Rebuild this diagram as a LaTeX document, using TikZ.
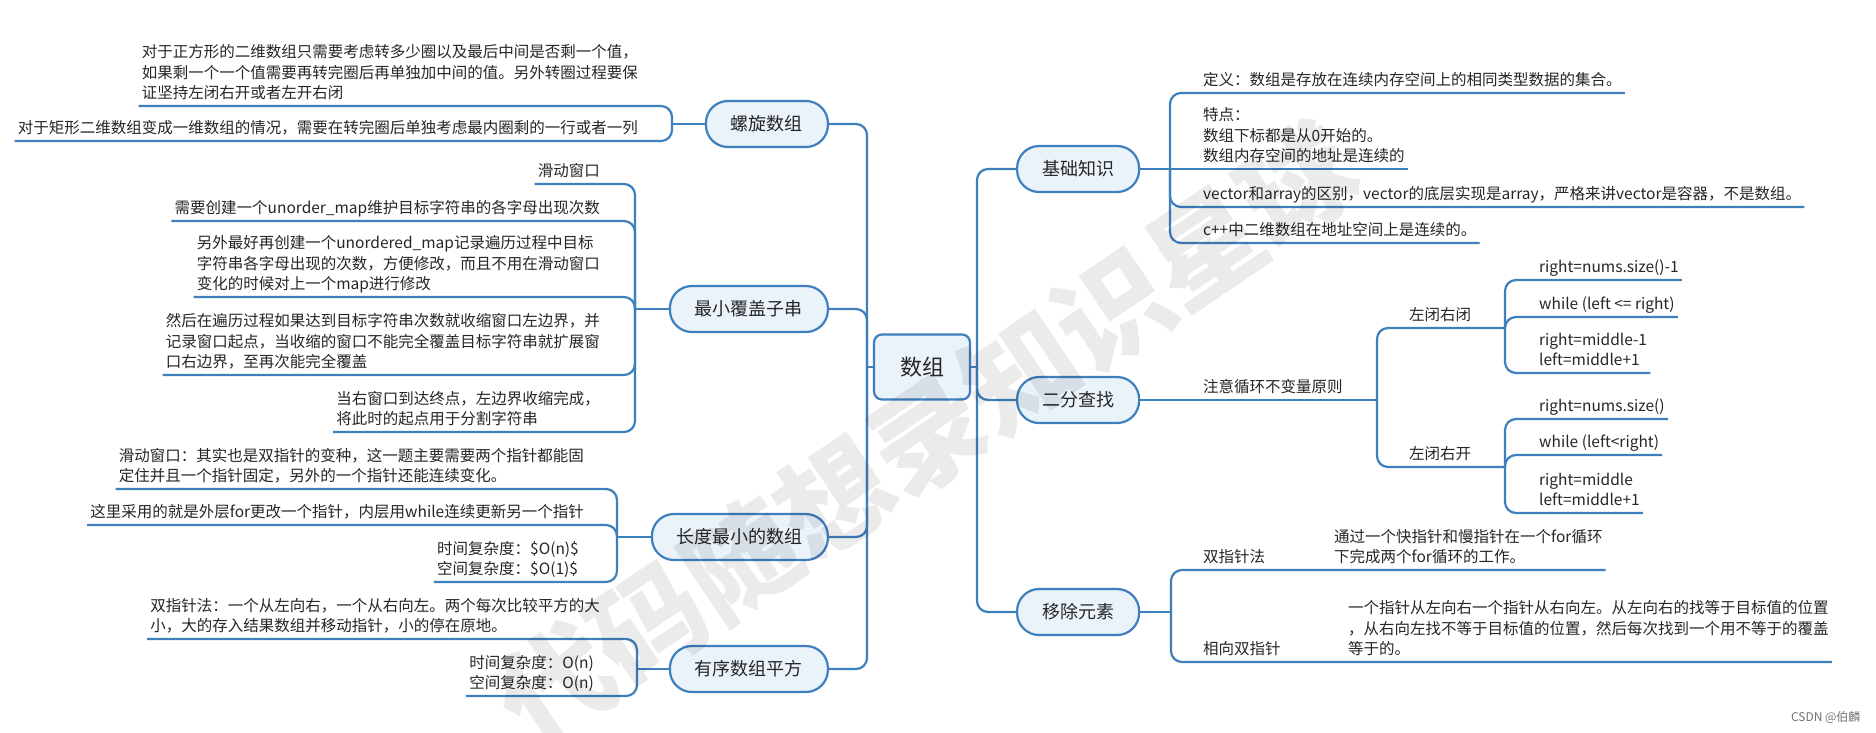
\documentclass[tikz,border=0pt]{standalone}
\usepackage{fontspec}
\setmainfont{Noto Sans CJK SC}
\definecolor{linec}{HTML}{3E7FBE}
\definecolor{pillfill}{HTML}{EAF2FA}
\definecolor{txt}{HTML}{262626}
\begin{document}
\begin{tikzpicture}[x=1pt,y=-1pt,
  conn/.style={draw=linec,line width=2.2pt,rounded corners=11pt},
  sconn/.style={draw=linec,line width=2.2pt},
  pill/.style={draw=linec,line width=2.2pt,fill=pillfill,rounded corners=22pt,minimum height=46pt,inner xsep=25pt,inner ysep=0pt,font=\fontsize{18}{20}\selectfont,text=txt},
  leaf/.style={inner xsep=3pt,inner ysep=1pt,align=left,font=\fontsize{15.5}{20.5}\selectfont,text=txt,execute at end node=\strut},
]
\useasboundingbox (0,0) rectangle (1876,732);
\fill[white] (0,0) rectangle (1876,732);

% central node
\node[draw=linec,line width=2.2pt,fill=pillfill,rounded corners=8pt,minimum width=96pt,minimum height=65pt,font=\fontsize{22}{24}\selectfont,text=txt] (C) at (922,367) {数组};
\coordinate (LT) at (867,367);
\coordinate (RT) at (977,367);
\draw[sconn] (C.west) -- (LT);
\draw[sconn] (C.east) -- (RT);

% main branches
\node[pill,anchor=east] (P1) at (829,124) {螺旋数组};
\node[pill,anchor=east] (P2) at (829,309) {最小覆盖子串};
\node[pill,anchor=east] (P3) at (829,537) {长度最小的数组};
\node[pill,anchor=east] (P4) at (829,669) {有序数组平方};
\foreach \p in {P1,P2,P3,P4} \draw[conn] (LT) |- (\p.east);

\node[pill,anchor=west] (Q1) at (1016,169) {基础知识};
\node[pill,anchor=west] (Q2) at (1016,400) {二分查找};
\node[pill,anchor=west] (Q3) at (1016,612) {移除元素};
\foreach \q in {Q1,Q2,Q3} \draw[conn] (RT) |- (\q.west);

% 螺旋数组
\coordinate (J1) at (672,124);
\draw[sconn] (P1.west) -- (J1);
\node[leaf,anchor=south east] (S1) at (641,106) {对于正方形的二维数组只需要考虑转多少圈以及最后中间是否剩一个值，\\如果剩一个一个值需要再转完圈后再单独加中间的值。另外转圈过程要保\\证坚持左闭右开或者左开右闭};
\node[leaf,anchor=south east] (S2) at (641,141) {对于矩形二维数组变成一维数组的情况，需要在转完圈后单独考虑最内圈剩的一行或者一列};
\foreach \n in {S1,S2} \draw[conn] (J1) |- (\n.south west);

% 最小覆盖子串
\coordinate (J2) at (635,309);
\draw[sconn] (P2.west) -- (J2);
\node[leaf,anchor=south east] (M1) at (603,184) {滑动窗口};
\node[leaf,anchor=south east] (M2) at (603,221) {需要创建一个unorder\_map维护目标字符串的各字母出现次数};
\node[leaf,anchor=south east] (M3) at (603,297) {另外最好再创建一个unordered\_map记录遍历过程中目标\\字符串各字母出现的次数，方便修改，而且不用在滑动窗口\\变化的时候对上一个map进行修改};
\node[leaf,anchor=south east] (M4) at (603,375) {然后在遍历过程如果达到目标字符串次数就收缩窗口左边界，并\\记录窗口起点，当收缩的窗口不能完全覆盖目标字符串就扩展窗\\口右边界，至再次能完全覆盖};
\node[leaf,anchor=south east] (M5) at (603,432) {当右窗口到达终点，左边界收缩完成，\\将此时的起点用于分割字符串};
\foreach \n in {M1,M2,M3,M4,M5} \draw[conn] (J2) |- (\n.south west);

% 长度最小的数组
\coordinate (J3) at (617,537);
\draw[sconn] (P3.west) -- (J3);
\node[leaf,anchor=south east] (L1) at (587,489) {滑动窗口：其实也是双指针的变种，这一题主要需要两个指针都能固\\定住并且一个指针固定，另外的一个指针还能连续变化。};
\node[leaf,anchor=south east] (L2) at (587,525) {这里采用的就是外层for更改一个指针，内层用while连续更新另一个指针};
\node[leaf,anchor=south east] (L3) at (582,582) {时间复杂度：\$O(n)\$\\空间复杂度：\$O(1)\$};
\foreach \n in {L1,L2,L3} \draw[conn] (J3) |- (\n.south west);

% 有序数组平方
\coordinate (J4) at (637,669);
\draw[sconn] (P4.west) -- (J4);
\node[leaf,anchor=south east] (Y1) at (603,639) {双指针法：一个从左向右，一个从右向左。两个每次比较平方的大\\小，大的存入结果数组并移动指针，小的停在原地。};
\node[leaf,anchor=south east] (Y2) at (597,696) {时间复杂度：O(n)\\空间复杂度：O(n)};
\foreach \n in {Y1,Y2} \draw[conn] (J4) |- (\n.south west);

% 基础知识
\coordinate (J5) at (1170,169);
\draw[sconn] (Q1.east) -- (J5);
\node[leaf,anchor=south west] (K1) at (1200,93) {定义：数组是存放在连续内存空间上的相同类型数据的集合。};
\node[leaf,anchor=south west] (K2) at (1200,169) {特点：\\数组下标都是从0开始的。\\数组内存空间的地址是连续的};
\node[leaf,anchor=south west] (K3) at (1200,207) {vector和array的区别，vector的底层实现是array，严格来讲vector是容器，不是数组。};
\node[leaf,anchor=south west] (K4) at (1200,243) {c++中二维数组在地址空间上是连续的。};
\foreach \n in {K1,K3,K4} \draw[conn] (J5) |- (\n.south east);
\draw[sconn] (J5) -- (K2.south east);

% 二分查找
\node[leaf,anchor=south west] (N) at (1200,400) {注意循环不变量原则};
\coordinate (J6) at (1377,400);
\draw[sconn] (Q2.east) -- (N.south west) -- (J6);
\node[leaf,anchor=south west] (B1) at (1406,328) {左闭右闭};
\node[leaf,anchor=south west] (B2) at (1406,467) {左闭右开};
\coordinate (J7) at (1505,328);
\coordinate (J8) at (1505,467);
\draw[conn] (J6) |- (B1.south west) -- (J7);
\draw[conn] (J6) |- (B2.south west) -- (J8);
\node[leaf,anchor=south west] (E1) at (1536,280) {right=nums.size()-1};
\node[leaf,anchor=south west] (E2) at (1536,317) {while (left <= right)};
\node[leaf,anchor=south west] (E3) at (1536,373) {right=middle-1\\left=middle+1};
\foreach \n in {E1,E2,E3} \draw[conn] (J7) |- (\n.south east);
\node[leaf,anchor=south west] (F1) at (1536,419) {right=nums.size()};
\node[leaf,anchor=south west] (F2) at (1536,455) {while (left<right)};
\node[leaf,anchor=south west] (F3) at (1536,513) {right=middle\\left=middle+1};
\foreach \n in {F1,F2,F3} \draw[conn] (J8) |- (\n.south east);

% 移除元素
\coordinate (J9) at (1171,612);
\draw[sconn] (Q3.east) -- (J9);
\node[leaf,anchor=south west] (D1) at (1200,570) {双指针法};
\node[leaf,anchor=south west] (D1c) at (1331,570) {通过一个快指针和慢指针在一个for循环\\下完成两个for循环的工作。};
\node[leaf,anchor=south west] (D2) at (1200,662) {相向双指针};
\node[leaf,anchor=south west] (D2c) at (1345,662) {一个指针从左向右一个指针从右向左。从左向右的找等于目标值的位置\\，从右向左找不等于目标值的位置，然后每次找到一个用不等于的覆盖\\等于的。};
\draw[conn] (J9) |- (D1.south west) -- (D1c.south east);
\draw[conn] (J9) |- (D2.south west) -- (D2c.south east);

% watermark and credit
\node[rotate=34,text=black,text opacity=0.08,font=\fontsize{112}{114}\selectfont\bfseries] (W) at (927,435) {代码随想录知识星球};
\node[anchor=east,font=\fontsize{12}{14}\selectfont,text=black!55] (csdn) at (1864,717) {CSDN @伯麟};
\end{tikzpicture}
\end{document}
